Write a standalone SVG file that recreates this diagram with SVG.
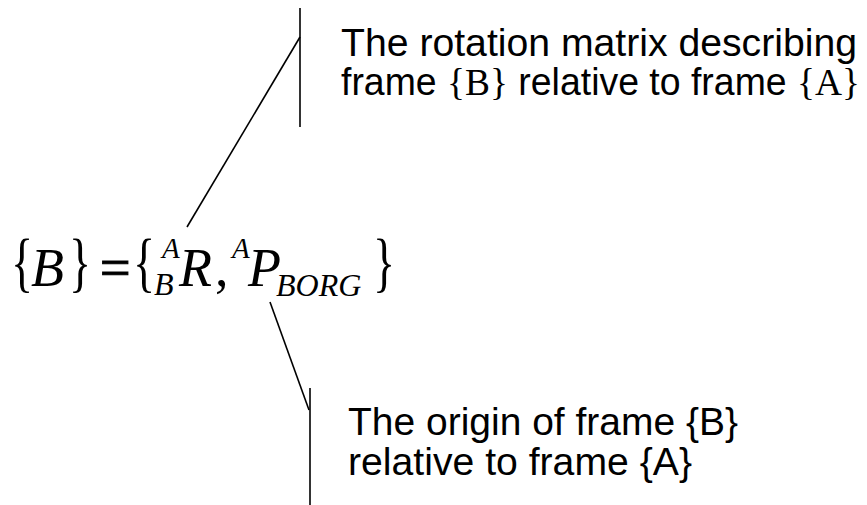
<svg xmlns="http://www.w3.org/2000/svg" width="867" height="505" viewBox="0 0 867 505">
<style>
.lbl{font-family:"Liberation Sans",Arial,sans-serif;font-size:38px;fill:#000}
.ser{font-family:"Liberation Serif","Times New Roman",serif}
.eq{font-family:"Liberation Serif","Times New Roman",serif;fill:#000}
.it{font-style:italic}
.big{font-size:54px}
.br{font-size:46px}
.eqs{stroke:#000;stroke-width:1.2}
.sup{font-size:29px}
.sub{font-size:32px}
.ln{stroke:#000;stroke-width:1.6;fill:none}
</style>
<rect width="867" height="505" fill="#fff"/>
<g id="connectors">
<line class="ln" x1="187" y1="227" x2="300" y2="37"/>
<line class="ln" x1="300" y1="8" x2="300" y2="127"/>
<line class="ln" x1="270" y1="302" x2="309" y2="410"/>
<line class="ln" x1="310" y1="388" x2="310" y2="505"/>
</g>
<g id="equation" class="eq">
<text class="br" transform="translate(11,284) scale(1,1.42)">{</text>
<text class="big it" x="31" y="286">B</text>
<text class="br" transform="translate(69,284) scale(1,1.42)">}</text>
<text class="big eqs" x="100" y="286">=</text>
<text class="br" transform="translate(133,284) scale(1,1.42)">{</text>
<text class="sup it" x="162" y="258">A</text>
<text class="sub it" x="154" y="295">B</text>
<text class="big it" x="179" y="286">R</text>
<text class="big" x="215" y="286">,</text>
<text class="sup it" x="232" y="258">A</text>
<text class="big it" x="248" y="286">P</text>
<text class="sub it" x="276" y="296">BORG</text>
<text class="br" transform="translate(373,284) scale(1,1.42)">}</text>
</g>
<g id="label-rotation">
<text class="lbl" x="341" y="56" textLength="516" lengthAdjust="spacingAndGlyphs">The rotation matrix describing</text>
<text class="lbl" x="341" y="95" textLength="519" lengthAdjust="spacingAndGlyphs">frame <tspan class="ser">{B}</tspan> relative to frame <tspan class="ser">{A}</tspan></text>
</g>
<g id="label-origin">
<text class="lbl" x="348" y="435" textLength="390" lengthAdjust="spacingAndGlyphs">The origin of frame {B}</text>
<text class="lbl" x="348" y="475" textLength="344" lengthAdjust="spacingAndGlyphs">relative to frame {A}</text>
</g>
</svg>
